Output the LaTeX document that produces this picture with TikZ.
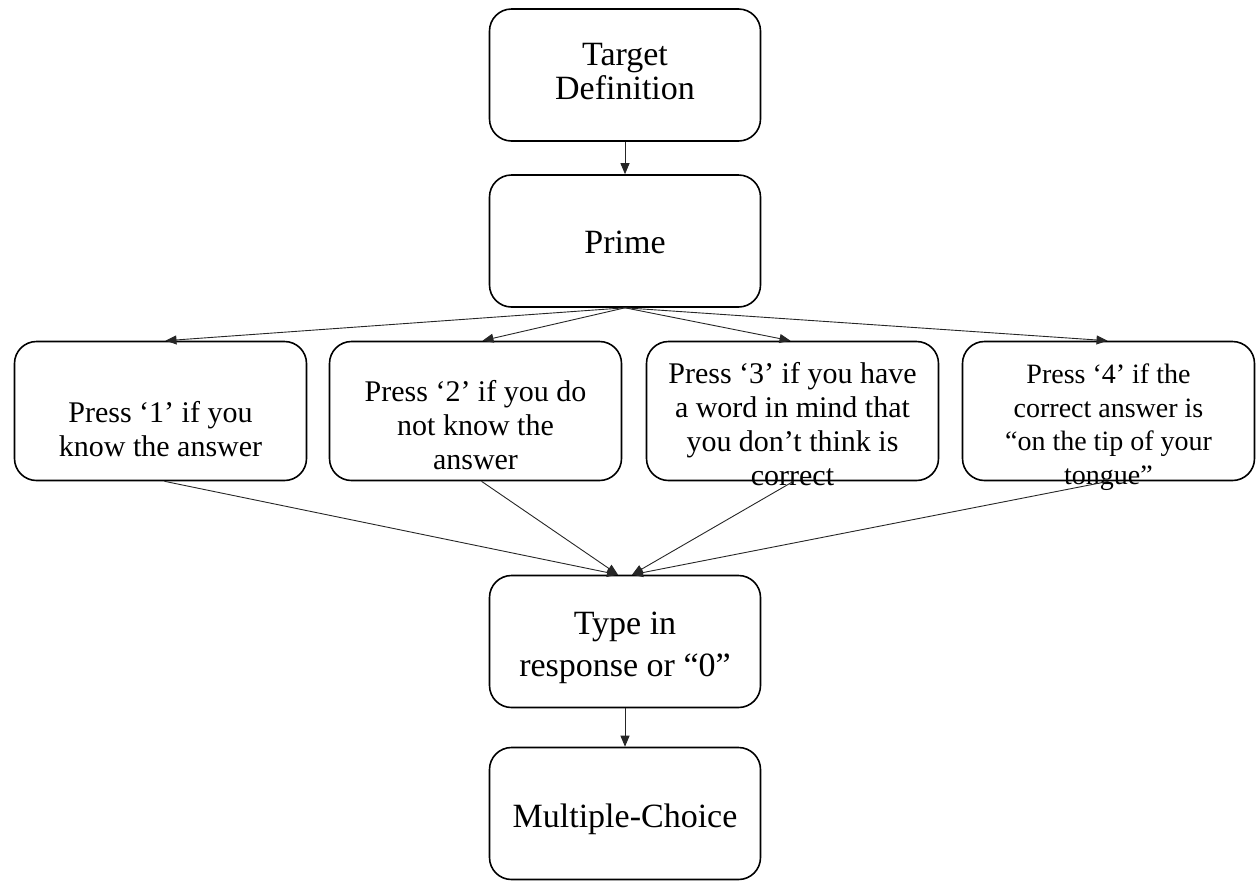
\documentclass[tikz,border=0pt]{standalone}
\usepackage{fontspec}
\setmainfont{Liberation Serif}
\usetikzlibrary{arrows.meta,calc}
\begin{document}
\begin{tikzpicture}[x=1pt,y=-1pt,
  box/.style={draw, line width=1.6pt, rounded corners=22pt, minimum width=271pt, minimum height=132pt, inner sep=0pt},
  side/.style={draw, line width=1.6pt, rounded corners=22pt, minimum width=292pt, minimum height=139pt, inner sep=0pt},
  bigtxt/.style={align=center, inner sep=0pt, font=\fontsize{34}{34}\selectfont},
  smalltxt/.style={align=center, inner sep=0pt, anchor=north, font=\fontsize{30}{34}\selectfont},
  link/.style={line width=0.9pt, draw=black!85, -{Triangle[length=11pt,width=9pt]}}
]
\useasboundingbox (0,0) rectangle (1257,884);

% boxes
\node[box] (def) at (625,75) {};
\node[box] (prime) at (625,241) {};
\node[side] (b1) at (160.5,411) {};
\node[side] (b2) at (475.5,411) {};
\node[side] (b3) at (792.5,411) {};
\node[side] (b4) at (1108.5,411) {};
\node[box] (type) at (625,641.5) {};
\node[box] (mc) at (625,813.5) {};

% texts
\node[bigtxt] (deftxt) at (625,72) {Target\\Definition};
\node[bigtxt] (primetxt) at (625,242) {Prime};
\node[smalltxt] (b1txt) at (160.5,401) {Press ‘1’ if you\\know the answer};
\node[smalltxt] (b2txt) at (475.5,380) {Press ‘2’ if you do\\not know the\\answer};
\node[smalltxt] (b3txt) at (792.5,362) {Press ‘3’ if you have\\a word in mind that\\you don’t think is\\correct};
\node[smalltxt, font=\fontsize{28}{33.5}\selectfont] (b4txt) at (1108.5,364) {Press ‘4’ if the\\correct answer is\\“on the tip of your\\tongue”};
\node[bigtxt, font=\fontsize{34}{42}\selectfont] (typetxt) at (625,648) {Type in\\response or “0”};
\node[bigtxt] (mctxt) at (625,819) {Multiple-Choice};

% connectors
\draw[link] (def.south) -- (prime.north);
\draw[link] (prime.south) -- ($(b1.north)+(5,0)$);
\draw[link] (prime.south) -- ($(b2.north)+(7,0)$);
\draw[link] (prime.south) -- ($(b3.north)+(-2,0)$);
\draw[link] (prime.south) -- ($(b4.north)+(-1,0)$);
\draw[link] ($(b1.south)+(4,0)$) -- ($(type.north)+(-7,0)$);
\draw[link] ($(b2.south)+(6,0)$) -- ($(type.north)+(-7,0)$);
\draw[link] ($(b3.south)+(1,0)$) -- ($(type.north)+(7,0)$);
\draw[link] (b4.south) -- ($(type.north)+(7,0)$);
\draw[link] (type.south) -- (mc.north);
\end{tikzpicture}
\end{document}
